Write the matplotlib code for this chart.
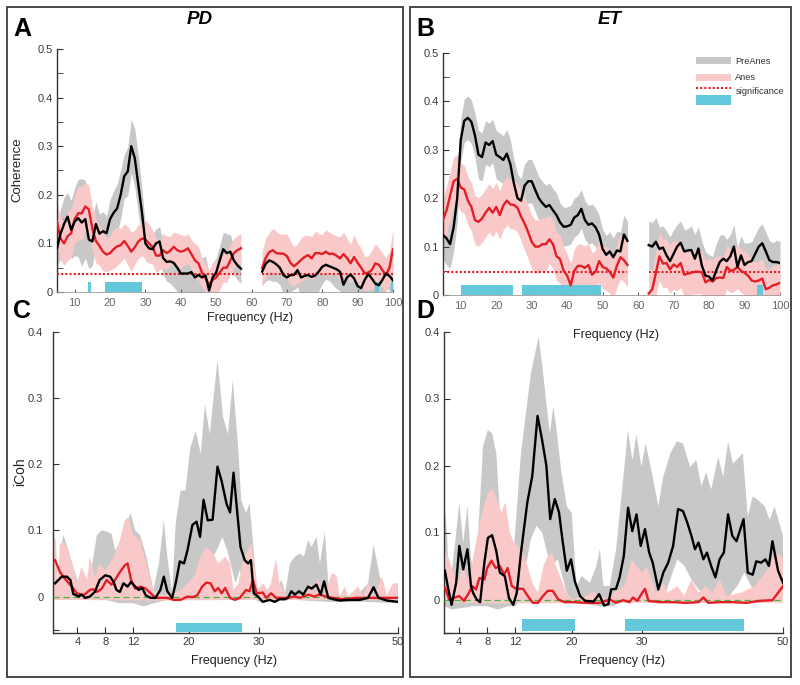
import numpy as np
import matplotlib
matplotlib.use("Agg")
import matplotlib.pyplot as plt
from matplotlib.patches import Rectangle
from matplotlib.lines import Line2D

plt.rcParams['font.family'] = ['Liberation Sans', 'DejaVu Sans']

GREY = '#c8c8c8'
PINK = '#f9c9c9'
RED = '#e41e26'
CYAN = '#62c8da'
GREEN = '#44b844'
DARK = '#333333'

# ---------------- coherence data (top row) ----------------
freq_lo = np.arange(5, 58)    # 5..57 Hz
freq_hi = np.arange(63, 101)  # 63..100 Hz

# PD
pd_pre_lo = np.array([0.09, 0.12, 0.14, 0.155, 0.128, 0.145, 0.152, 0.143, 0.15, 0.108,
                      0.104, 0.14, 0.12, 0.125, 0.121, 0.15, 0.163, 0.172, 0.2, 0.238,
                      0.248, 0.30, 0.275, 0.22, 0.165, 0.1, 0.09, 0.088, 0.1, 0.104,
                      0.07, 0.062, 0.063, 0.06, 0.05, 0.038, 0.038, 0.038, 0.041, 0.03,
                      0.035, 0.03, 0.034, 0.003, 0.03, 0.04, 0.065, 0.088, 0.08, 0.083,
                      0.065, 0.055, 0.048])
pd_pre_hi = np.array([0.042, 0.058, 0.065, 0.062, 0.057, 0.05, 0.035, 0.03, 0.035, 0.035,
                      0.045, 0.03, 0.033, 0.035, 0.031, 0.034, 0.042, 0.052, 0.056, 0.053,
                      0.05, 0.047, 0.042, 0.015, 0.03, 0.036, 0.028, 0.012, 0.008, 0.025,
                      0.037, 0.028, 0.017, 0.014, 0.025, 0.038, 0.033, 0.024])
pd_anes_lo = np.array([0.145, 0.11, 0.1, 0.115, 0.121, 0.15, 0.162, 0.162, 0.176, 0.17,
                       0.13, 0.105, 0.095, 0.083, 0.077, 0.08, 0.088, 0.094, 0.096, 0.105,
                       0.095, 0.083, 0.092, 0.104, 0.11, 0.108, 0.1, 0.093, 0.075, 0.075,
                       0.086, 0.08, 0.085, 0.093, 0.086, 0.083, 0.085, 0.09, 0.078, 0.065,
                       0.059, 0.04, 0.028, 0.015, 0.025, 0.03, 0.04, 0.05, 0.05, 0.065,
                       0.08, 0.086, 0.09])
pd_anes_hi = np.array([0.049, 0.07, 0.082, 0.086, 0.08, 0.079, 0.079, 0.074, 0.06, 0.053,
                       0.059, 0.066, 0.072, 0.076, 0.069, 0.08, 0.08, 0.078, 0.083, 0.078,
                       0.079, 0.075, 0.069, 0.078, 0.07, 0.059, 0.072, 0.06, 0.05, 0.038,
                       0.04, 0.045, 0.059, 0.056, 0.045, 0.035, 0.05, 0.088])
pd_pre_err_lo = np.array([0.04, 0.05, 0.055, 0.05, 0.06, 0.07, 0.08, 0.09, 0.08, 0.06,
                          0.05, 0.045, 0.04, 0.04, 0.035, 0.04, 0.045, 0.05, 0.05, 0.045,
                          0.05, 0.055, 0.06, 0.06, 0.05, 0.035, 0.03, 0.03, 0.03, 0.03,
                          0.035, 0.04, 0.045, 0.05, 0.05, 0.045, 0.04, 0.04, 0.04, 0.04,
                          0.04, 0.04, 0.04, 0.035, 0.03, 0.03, 0.03, 0.035, 0.04, 0.035,
                          0.03, 0.03, 0.03])
pd_pre_err_hi = np.array([0.03, 0.035, 0.04, 0.04, 0.035, 0.035, 0.04, 0.04, 0.035, 0.03,
                          0.035, 0.04, 0.04, 0.035, 0.035, 0.04, 0.04, 0.035, 0.03, 0.03,
                          0.035, 0.04, 0.04, 0.035, 0.035, 0.04, 0.04, 0.035, 0.03, 0.03,
                          0.035, 0.035, 0.04, 0.04, 0.035, 0.03, 0.03, 0.035])
pd_anes_err_lo = np.array([0.04, 0.045, 0.045, 0.05, 0.05, 0.05, 0.055, 0.055, 0.05, 0.05,
                           0.045, 0.045, 0.04, 0.04, 0.035, 0.035, 0.04, 0.04, 0.035, 0.035,
                           0.04, 0.04, 0.035, 0.035, 0.035, 0.04, 0.04, 0.035, 0.035, 0.03,
                           0.035, 0.035, 0.03, 0.03, 0.035, 0.035, 0.03, 0.03, 0.03, 0.035,
                           0.035, 0.03, 0.03, 0.03, 0.035, 0.035, 0.035, 0.03, 0.03, 0.03,
                           0.03, 0.03, 0.03])
pd_anes_err_hi = np.array([0.035, 0.04, 0.04, 0.045, 0.045, 0.04, 0.04, 0.045, 0.045, 0.04,
                           0.04, 0.045, 0.045, 0.04, 0.045, 0.045, 0.04, 0.04, 0.045, 0.045,
                           0.04, 0.04, 0.045, 0.045, 0.04, 0.04, 0.045, 0.04, 0.04, 0.035,
                           0.035, 0.04, 0.04, 0.035, 0.035, 0.035, 0.035, 0.04])
pd_sig = 0.037
pd_bars = [(13.8, 14.7), (18.6, 28.9), (95.0, 96.0), (99.4, 100.0)]

# ET
et_pre_lo = np.array([0.124, 0.117, 0.105, 0.14, 0.2, 0.32, 0.36, 0.366, 0.358, 0.33,
                      0.29, 0.285, 0.315, 0.31, 0.318, 0.29, 0.285, 0.279, 0.292, 0.27,
                      0.23, 0.2, 0.195, 0.226, 0.235, 0.235, 0.217, 0.2, 0.19, 0.182,
                      0.186, 0.175, 0.165, 0.15, 0.141, 0.142, 0.145, 0.16, 0.165, 0.178,
                      0.155, 0.145, 0.148, 0.14, 0.125, 0.095, 0.083, 0.09, 0.078, 0.092,
                      0.09, 0.125, 0.112])
et_pre_hi = np.array([0.103, 0.1, 0.11, 0.095, 0.098, 0.082, 0.07, 0.085, 0.1, 0.108,
                      0.09, 0.092, 0.093, 0.075, 0.096, 0.06, 0.04, 0.038, 0.03, 0.05,
                      0.068, 0.075, 0.07, 0.08, 0.1, 0.058, 0.082, 0.062, 0.068, 0.07,
                      0.085, 0.1, 0.107, 0.09, 0.072, 0.068, 0.068, 0.066])
et_anes_lo = np.array([0.155, 0.175, 0.205, 0.235, 0.24, 0.222, 0.218, 0.195, 0.182, 0.155,
                       0.151, 0.158, 0.17, 0.18, 0.17, 0.182, 0.165, 0.185, 0.195, 0.187,
                       0.186, 0.18, 0.162, 0.148, 0.13, 0.11, 0.1, 0.1, 0.105, 0.105,
                       0.115, 0.105, 0.08, 0.074, 0.05, 0.04, 0.02, 0.05, 0.06, 0.06,
                       0.056, 0.062, 0.042, 0.048, 0.07, 0.058, 0.055, 0.048, 0.036, 0.06,
                       0.078, 0.072, 0.062])
et_anes_hi = np.array([0.003, 0.012, 0.045, 0.08, 0.065, 0.066, 0.053, 0.063, 0.058, 0.066,
                       0.042, 0.044, 0.046, 0.048, 0.048, 0.047, 0.026, 0.031, 0.028, 0.035,
                       0.036, 0.035, 0.058, 0.05, 0.052, 0.058, 0.05, 0.046, 0.04, 0.03,
                       0.028, 0.03, 0.034, 0.012, 0.015, 0.02, 0.022, 0.025])
et_pre_err_lo = np.array([0.05, 0.055, 0.05, 0.05, 0.05, 0.045, 0.045, 0.045, 0.045, 0.045,
                          0.05, 0.05, 0.045, 0.045, 0.045, 0.05, 0.05, 0.05, 0.05, 0.05,
                          0.05, 0.05, 0.045, 0.045, 0.045, 0.045, 0.045, 0.045, 0.045, 0.045,
                          0.045, 0.045, 0.045, 0.04, 0.04, 0.04, 0.04, 0.04, 0.04, 0.04,
                          0.04, 0.04, 0.04, 0.04, 0.04, 0.04, 0.04, 0.04, 0.04, 0.04,
                          0.04, 0.04, 0.04])
et_pre_err_hi = np.array([0.05, 0.05, 0.05, 0.045, 0.045, 0.05, 0.05, 0.05, 0.045, 0.045,
                          0.045, 0.045, 0.05, 0.05, 0.045, 0.05, 0.05, 0.045, 0.05, 0.055,
                          0.055, 0.05, 0.045, 0.045, 0.045, 0.04, 0.04, 0.045, 0.04, 0.04,
                          0.04, 0.04, 0.04, 0.04, 0.04, 0.04, 0.045, 0.045])
et_anes_err_lo = np.array([0.045, 0.05, 0.05, 0.05, 0.05, 0.05, 0.05, 0.05, 0.05, 0.05,
                           0.05, 0.05, 0.05, 0.05, 0.05, 0.05, 0.05, 0.05, 0.05, 0.05,
                           0.05, 0.05, 0.05, 0.055, 0.055, 0.055, 0.055, 0.055, 0.055, 0.055,
                           0.05, 0.05, 0.05, 0.05, 0.05, 0.045, 0.045, 0.045, 0.045, 0.045,
                           0.045, 0.045, 0.045, 0.045, 0.045, 0.045, 0.045, 0.045, 0.045, 0.045,
                           0.045, 0.045, 0.045])
et_anes_err_hi = np.array([0.04, 0.04, 0.045, 0.05, 0.05, 0.05, 0.05, 0.05, 0.05, 0.05,
                           0.045, 0.045, 0.045, 0.045, 0.045, 0.045, 0.045, 0.045, 0.045, 0.045,
                           0.045, 0.045, 0.045, 0.045, 0.045, 0.045, 0.045, 0.045, 0.045, 0.04,
                           0.04, 0.04, 0.04, 0.04, 0.04, 0.04, 0.04, 0.04])
et_sig = 0.0475
et_bars = [(10.1, 24.8), (27.3, 49.4), (93.4, 95.1)]

# ---------------- imaginary coherence data (bottom row), (Hz, value) ----------------
pd_icoh_pre = np.array([
    (0.8, 0.02), (1.75, 0.03), (2.5, 0.03), (3.0, 0.025), (3.4, 0.004), (4.2, 0.0), (4.6, 0.003),
    (5.1, -0.002), (5.8, 0.0), (6.5, 0.007), (7.2, 0.025), (8.0, 0.032), (8.7, 0.03), (9.2, 0.022),
    (9.6, 0.01), (10.1, 0.007), (10.6, 0.02), (11.2, 0.015), (11.7, 0.022), (12.3, 0.015),
    (12.8, 0.01), (13.3, 0.013), (13.8, 0.002), (14.5, -0.002), (15.2, -0.002), (15.9, 0.01),
    (16.4, 0.03), (16.9, 0.008), (17.6, -0.002), (18.1, 0.02), (18.7, 0.053), (19.3, 0.05),
    (19.8, 0.07), (20.5, 0.108), (21.1, 0.113), (21.6, 0.09), (22.1, 0.146), (22.7, 0.115),
    (23.4, 0.116), (24.1, 0.196), (24.7, 0.174), (25.4, 0.14), (25.9, 0.127), (26.4, 0.187),
    (27.0, 0.12), (27.4, 0.075), (28.0, 0.055), (28.5, 0.05), (28.9, 0.055), (29.3, 0.005),
    (29.9, 0.0), (30.6, -0.008), (31.6, -0.005), (32.3, -0.008), (33.0, -0.004), (33.8, -0.004),
    (34.2, -0.002), (34.7, 0.008), (35.2, 0.003), (35.8, 0.008), (36.4, 0.003), (37.1, 0.015),
    (37.6, 0.012), (38.3, 0.018), (38.9, 0.003), (39.4, 0.023), (40.0, -0.002), (40.7, -0.004),
    (41.6, -0.006), (43.1, -0.005), (44.5, -0.005), (45.7, -0.002), (46.5, 0.014), (47.2, -0.002),
    (48.4, -0.006), (50.0, -0.008)])
pd_icoh_anes = np.array([
    (0.8, 0.055), (1.5, 0.037), (2.2, 0.027), (3.2, 0.015), (3.9, 0.005), (4.9, 0.002), (5.8, 0.01),
    (6.3, 0.011), (6.8, 0.007), (7.5, 0.012), (8.2, 0.025), (8.9, 0.018), (9.4, 0.025), (10.1, 0.037),
    (10.8, 0.047), (11.2, 0.05), (11.7, 0.025), (12.3, 0.012), (13.0, 0.015), (13.8, 0.012),
    (14.5, 0.005), (15.2, -0.002), (16.9, -0.002), (17.8, -0.005), (18.8, -0.005), (19.8, 0.0),
    (20.5, -0.001), (21.2, 0.002), (21.9, 0.015), (22.5, 0.021), (23.1, 0.02), (23.7, 0.008),
    (24.2, 0.013), (24.7, 0.005), (25.2, 0.013), (25.9, -0.002), (26.6, -0.005), (27.3, -0.002),
    (28.2, 0.01), (28.7, 0.008), (29.2, 0.025), (29.7, 0.005), (30.6, 0.006), (31.1, -0.002),
    (31.8, 0.005), (32.5, -0.002), (34.0, -0.002), (35.2, 0.0), (35.9, -0.002), (37.1, 0.003),
    (38.0, 0.0), (38.7, 0.003), (39.7, 0.0), (40.7, -0.002), (42.1, -0.004), (44.0, -0.002),
    (46.5, -0.002), (48.4, -0.002), (50.0, -0.002)])
pd_icoh_pre_up = np.array([
    (0.6, 0.04), (1.2, 0.02), (1.6, 0.07), (2.0, 0.093), (2.7, 0.07), (3.4, 0.045), (4.2, 0.018),
    (4.6, 0.04), (5.4, 0.018), (6.0, 0.04), (6.8, 0.093), (7.5, 0.1), (8.2, 0.098), (8.9, 0.095),
    (9.4, 0.07), (10.1, 0.08), (10.8, 0.093), (11.6, 0.127), (12.3, 0.1), (13.0, 0.093),
    (13.9, 0.06), (14.9, 0.01), (15.7, 0.05), (16.4, 0.115), (16.9, 0.06), (17.6, 0.005),
    (18.1, 0.11), (18.8, 0.16), (19.5, 0.16), (20.2, 0.225), (21.0, 0.25), (21.7, 0.215),
    (22.3, 0.29), (23.0, 0.245), (24.1, 0.357), (24.9, 0.271), (25.6, 0.245), (26.3, 0.327),
    (27.1, 0.22), (27.5, 0.146), (28.2, 0.126), (28.7, 0.141), (29.2, 0.081), (29.7, 0.02),
    (30.4, 0.0), (31.6, 0.0), (32.5, 0.01), (33.3, 0.025), (33.8, 0.005), (34.5, 0.05),
    (35.2, 0.06), (35.9, 0.065), (36.5, 0.06), (37.1, 0.085), (37.6, 0.075), (38.3, 0.09),
    (38.8, 0.05), (39.5, 0.098), (40.0, 0.02), (40.7, 0.002), (41.6, 0.0), (44.0, 0.0),
    (45.7, 0.02), (46.5, 0.078), (47.4, 0.03), (48.4, 0.0), (50.0, 0.0)])
pd_icoh_pre_low = np.array([
    (0.6, -0.005), (5.0, -0.005), (8.0, -0.005), (10.0, -0.01), (12.0, -0.01), (13.5, -0.015),
    (15.0, -0.01), (17.0, -0.005), (18.5, 0.0), (20.0, 0.02), (21.5, 0.04), (23.0, 0.05),
    (24.0, 0.07), (24.8, 0.09), (25.5, 0.07), (26.2, 0.04), (26.7, 0.02), (27.3, 0.04),
    (28.0, 0.02), (29.0, 0.0), (30.0, -0.008), (35.0, -0.005), (40.0, -0.008), (45.0, -0.008),
    (50.0, -0.01)])
pd_icoh_anes_up = np.array([
    (0.5, 0.095), (0.9, 0.085), (1.2, 0.02), (1.5, 0.08), (2.2, 0.082), (3.2, 0.052), (3.9, 0.02),
    (4.6, 0.045), (5.4, 0.025), (5.8, 0.06), (6.5, 0.03), (7.2, 0.05), (8.0, 0.04), (8.7, 0.05),
    (9.4, 0.065), (10.1, 0.085), (10.8, 0.115), (11.3, 0.12), (12.0, 0.093), (13.0, 0.085),
    (13.9, 0.05), (14.9, 0.01), (15.9, 0.002), (17.8, 0.005), (18.8, 0.01), (19.8, 0.02),
    (20.8, 0.03), (21.6, 0.06), (22.5, 0.075), (23.5, 0.065), (24.2, 0.05), (25.2, 0.06),
    (25.9, 0.05), (26.4, 0.01), (27.1, 0.02), (27.6, 0.05), (28.2, 0.065), (29.0, 0.08),
    (29.5, 0.04), (29.9, 0.01), (30.6, 0.02), (31.3, 0.01), (31.8, 0.02), (32.5, 0.058),
    (33.0, 0.02), (34.0, 0.0), (35.9, 0.0), (37.3, 0.02), (38.0, 0.005), (38.5, 0.03),
    (39.2, 0.0), (40.0, 0.02), (40.5, 0.035), (41.2, 0.032), (41.6, 0.0), (42.4, 0.015),
    (42.8, 0.0), (44.3, 0.015), (45.0, 0.0), (45.7, 0.022), (46.5, 0.0), (47.7, 0.03),
    (48.4, 0.002), (49.3, 0.02), (50.0, 0.02)])
pd_icoh_anes_low = np.array([(0.5, -0.005), (15.0, -0.006), (30.0, -0.005), (50.0, -0.005)])
pd_icoh_bars = [(18.2, 27.6)]

et_icoh_pre = np.array([
    (2.0, 0.043), (2.4, 0.02), (2.95, -0.008), (3.6, 0.025), (4.05, 0.08), (4.6, 0.045),
    (5.2, 0.075), (5.7, 0.02), (6.0, 0.01), (6.5, 0.0), (7.0, -0.004), (7.6, 0.055), (8.1, 0.092),
    (8.7, 0.096), (9.3, 0.072), (9.8, 0.04), (10.5, 0.035), (11.1, 0.002), (11.7, -0.008),
    (12.2, 0.01), (12.8, 0.07), (13.7, 0.145), (14.4, 0.184), (15.15, 0.274), (15.8, 0.238),
    (16.4, 0.2), (16.95, 0.12), (17.6, 0.15), (18.2, 0.13), (18.7, 0.088), (19.3, 0.043),
    (19.9, 0.06), (20.45, 0.027), (21.2, 0.005), (21.9, -0.002), (23.1, -0.003), (23.9, 0.008),
    (24.6, -0.009), (25.2, -0.007), (25.6, 0.015), (26.3, 0.016), (26.8, 0.033), (27.4, 0.065),
    (28.0, 0.137), (28.6, 0.102), (29.2, 0.127), (29.8, 0.08), (30.4, 0.105), (31.0, 0.07),
    (31.5, 0.055), (32.3, 0.015), (33.0, 0.04), (33.7, 0.055), (34.4, 0.08), (35.1, 0.135),
    (35.8, 0.132), (36.4, 0.115), (37.0, 0.095), (37.5, 0.075), (38.0, 0.085), (38.7, 0.06),
    (39.2, 0.07), (39.8, 0.05), (40.4, 0.033), (41.0, 0.06), (41.6, 0.07), (42.2, 0.127),
    (42.8, 0.095), (43.4, 0.087), (44.4, 0.12), (45.0, 0.04), (45.7, 0.037), (46.2, 0.057),
    (46.9, 0.055), (47.5, 0.06), (48.0, 0.05), (48.5, 0.087), (49.3, 0.043), (50.0, 0.025)])
et_icoh_anes = np.array([
    (2.0, 0.018), (2.6, 0.0), (3.4, 0.003), (4.05, 0.005), (4.7, -0.002), (5.3, 0.008), (5.9, 0.02),
    (6.4, 0.015), (6.9, 0.032), (7.6, 0.03), (8.0, 0.047), (8.6, 0.058), (9.2, 0.047), (9.8, 0.05),
    (10.4, 0.037), (10.9, 0.047), (11.5, 0.02), (12.1, 0.016), (13.1, 0.016), (13.9, 0.003),
    (14.5, -0.005), (15.2, -0.005), (15.9, 0.005), (16.6, 0.013), (17.3, 0.013), (18.1, 0.0),
    (19.0, -0.004), (20.4, -0.004), (22.1, -0.005), (24.0, -0.005), (25.4, 0.0), (26.3, -0.005),
    (27.3, -0.001), (28.2, -0.004), (28.7, 0.003), (29.3, -0.002), (29.9, 0.008), (30.4, 0.016),
    (30.9, -0.002), (32.5, -0.004), (34.4, -0.004), (36.3, -0.005), (38.0, -0.004), (38.7, 0.003),
    (39.4, -0.005), (41.0, -0.004), (42.9, -0.004), (44.8, -0.005), (46.7, -0.002), (48.5, -0.001),
    (49.3, 0.01), (50.0, 0.02)])
et_icoh_pre_up = np.array([
    (1.9, 0.145), (2.3, 0.1), (2.6, 0.008), (3.4, 0.08), (4.05, 0.145), (4.6, 0.085), (5.2, 0.14),
    (5.7, 0.06), (6.4, 0.04), (7.0, 0.15), (7.4, 0.228), (8.1, 0.253), (8.7, 0.248), (9.3, 0.218),
    (9.8, 0.13), (10.8, 0.095), (11.7, 0.06), (12.1, 0.12), (12.8, 0.218), (13.5, 0.278),
    (14.2, 0.337), (15.0, 0.377), (15.3, 0.392), (15.9, 0.342), (16.4, 0.293), (16.9, 0.248),
    (17.4, 0.288), (17.8, 0.258), (18.5, 0.193), (19.3, 0.139), (20.0, 0.129), (20.7, 0.02),
    (21.4, 0.035), (22.6, 0.025), (23.5, 0.05), (24.0, 0.075), (24.5, 0.02), (25.4, 0.02),
    (26.3, 0.075), (27.2, 0.169), (28.0, 0.253), (28.6, 0.208), (29.2, 0.246), (29.9, 0.198),
    (30.5, 0.233), (31.5, 0.183), (32.3, 0.139), (33.0, 0.183), (34.0, 0.218), (34.9, 0.236),
    (35.8, 0.233), (36.8, 0.198), (37.7, 0.208), (38.4, 0.169), (39.1, 0.19), (39.8, 0.164),
    (40.8, 0.213), (41.5, 0.183), (42.2, 0.236), (42.9, 0.203), (44.3, 0.218), (45.0, 0.124),
    (45.7, 0.154), (46.4, 0.149), (47.4, 0.139), (48.1, 0.119), (48.8, 0.139), (50.0, 0.095)])
et_icoh_pre_low = np.array([
    (1.9, -0.01), (3.0, -0.015), (6.0, -0.01), (8.0, -0.01), (9.5, -0.015), (11.0, -0.01),
    (12.0, -0.01), (12.8, 0.0), (13.5, 0.05), (14.2, 0.09), (15.0, 0.11), (15.8, 0.1),
    (16.5, 0.07), (17.2, 0.05), (18.0, 0.06), (18.8, 0.03), (19.5, 0.0), (20.5, -0.005),
    (24.0, -0.01), (26.0, -0.01), (27.0, 0.0), (28.0, 0.03), (29.0, 0.02), (30.0, 0.02),
    (31.0, 0.01), (32.0, 0.0), (33.0, 0.0), (34.0, 0.03), (35.0, 0.06), (36.0, 0.05),
    (37.0, 0.03), (38.0, 0.015), (40.0, 0.0), (42.0, 0.0), (43.5, 0.02), (44.5, 0.04),
    (45.5, 0.02), (46.5, 0.0), (50.0, 0.0)])
et_icoh_anes_up = np.array([
    (1.9, 0.075), (2.6, 0.06), (3.2, 0.04), (4.0, 0.03), (4.6, 0.05), (5.2, 0.03), (5.8, 0.05),
    (6.5, 0.09), (7.0, 0.115), (7.5, 0.14), (8.2, 0.16), (8.8, 0.165), (9.4, 0.15), (10.0, 0.13),
    (10.6, 0.145), (11.2, 0.1), (11.8, 0.085), (12.3, 0.08), (13.0, 0.07), (13.6, 0.055),
    (14.4, 0.025), (15.2, 0.01), (16.0, 0.05), (16.6, 0.065), (17.2, 0.07), (17.8, 0.05),
    (18.5, 0.03), (19.3, 0.01), (20.0, 0.0), (22.0, 0.005), (23.0, 0.012), (24.0, 0.005),
    (25.0, 0.0), (26.0, 0.01), (27.5, 0.02), (28.5, 0.06), (29.2, 0.05), (30.0, 0.04),
    (30.6, 0.05), (31.3, 0.03), (32.0, 0.01), (33.0, 0.025), (33.6, 0.01), (35.0, 0.02),
    (36.0, 0.005), (37.0, 0.03), (38.0, 0.01), (39.0, 0.02), (40.0, 0.01), (41.0, 0.03),
    (42.0, 0.005), (44.0, 0.01), (46.0, 0.02), (47.5, 0.04), (48.5, 0.06), (49.3, 0.07),
    (50.0, 0.06)])
et_icoh_anes_low = np.array([(1.9, -0.004), (10.0, -0.006), (25.0, -0.005), (50.0, -0.005)])
et_icoh_bars = [(12.9, 20.4), (27.5, 44.4)]

icoh_ticks = [4, 8, 12, 20, 30, 50]


def px_box(x0, y0, x1, y1):
    # pixel box (top-left origin) -> figure fraction rect
    return [x0 / 800, 1 - y1 / 685, (x1 - x0) / 800, (y1 - y0) / 685]


def style_axis(ax):
    for s in ('top', 'right'):
        ax.spines[s].set_visible(False)
    ax.spines['left'].set_color(DARK)
    ax.spines['left'].set_linewidth(1.0)
    ax.tick_params(axis='both', which='both', direction='in', colors=DARK,
                   labelsize=8, labelcolor='#3a3a3a')


def draw_coh(ax, pre, anes, pre_err, anes_err, sig, bars):
    for f, m, e in ((freq_lo, pre[0], pre_err[0]), (freq_hi, pre[1], pre_err[1])):
        ax.fill_between(f, m - e, m + e, color=GREY, lw=0, zorder=1)
    for f, m, e in ((freq_lo, anes[0], anes_err[0]), (freq_hi, anes[1], anes_err[1])):
        ax.fill_between(f, m - e, m + e, color=PINK, lw=0, zorder=2)
    for a, b in bars:
        ax.bar(a, 0.021, width=b - a, align='edge', color=CYAN, lw=0, zorder=3)
    for f in (freq_lo, freq_hi):
        ax.plot([f[0], f[-1]], [sig, sig], color=RED, lw=1.5, ls=(0, (1, 1)), zorder=4)
    ax.plot(freq_lo, anes[0], color=RED, lw=1.7, zorder=5)
    ax.plot(freq_hi, anes[1], color=RED, lw=1.7, zorder=5)
    ax.plot(freq_lo, pre[0], color='black', lw=1.7, zorder=6)
    ax.plot(freq_hi, pre[1], color='black', lw=1.7, zorder=6)
    ax.set_xlim(5, 100)
    ax.set_ylim(0, 0.5)
    style_axis(ax)
    ax.spines['bottom'].set_color('#9a9a9a')
    ax.spines['bottom'].set_linewidth(0.6)
    ax.set_xticks(np.arange(10, 101, 10))
    ax.set_yticks([0, 0.1, 0.2, 0.3, 0.4, 0.5])
    ax.set_yticklabels(['0', '0.1', '0.2', '0.3', '0.4', '0.5'])
    ax.set_yticks(np.arange(0.05, 0.5, 0.1), minor=True)
    ax.tick_params(axis='y', which='major', length=4, pad=3)
    ax.tick_params(axis='y', which='minor', length=4)
    ax.tick_params(axis='x', length=2.5, pad=4, colors='#666666')


def polygon(up, low):
    xs = np.concatenate([up[:, 0], low[::-1, 0]])
    ys = np.concatenate([up[:, 1], low[::-1, 1]])
    return xs, ys


def draw_icoh(ax, pre, anes, pre_up, pre_low, anes_up, anes_low, bars, bar_y, xmin, ymin, ypad):
    xs, ys = polygon(pre_up, pre_low)
    ax.fill(xs, ys, color=GREY, lw=0, zorder=1)
    xs, ys = polygon(anes_up, anes_low)
    ax.fill(xs, ys, color=PINK, lw=0, zorder=2)
    ax.plot([xmin, 50], [0, 0], color=GREEN, lw=0.9, ls=(0, (5, 3)), zorder=3)
    for a, b in bars:
        ax.bar(a, bar_y[1] - bar_y[0], width=b - a, bottom=bar_y[0], align='edge',
               color=CYAN, lw=0, zorder=3)
    ax.plot(anes[:, 0], anes[:, 1], color=RED, lw=1.7, zorder=5)
    ax.plot(pre[:, 0], pre[:, 1], color='black', lw=1.7, zorder=6)
    ax.set_xlim(xmin, 50)
    ax.set_ylim(ymin, 0.4)
    style_axis(ax)
    ax.spines['bottom'].set_color(DARK)
    ax.spines['bottom'].set_linewidth(1.0)
    ax.set_xticks(icoh_ticks)
    ax.set_yticks([-0.05, 0, 0.1, 0.2, 0.3, 0.4])
    ax.set_yticklabels(['', '0', '0.1', '0.2', '0.3', '0.4'])
    ax.tick_params(axis='y', length=4, pad=ypad)
    ax.tick_params(axis='x', length=4, pad=3)


fig = plt.figure(figsize=(8, 6.85), dpi=100)

axA = fig.add_axes(px_box(57, 49, 393, 292))
draw_coh(axA, (pd_pre_lo, pd_pre_hi), (pd_anes_lo, pd_anes_hi),
         (pd_pre_err_lo, pd_pre_err_hi), (pd_anes_err_lo, pd_anes_err_hi), pd_sig, pd_bars)

axB = fig.add_axes(px_box(443, 53, 780, 295))
draw_coh(axB, (et_pre_lo, et_pre_hi), (et_anes_lo, et_anes_hi),
         (et_pre_err_lo, et_pre_err_hi), (et_anes_err_lo, et_anes_err_hi), et_sig, et_bars)

axC = fig.add_axes(px_box(53, 331.5, 398, 633))
draw_icoh(axC, pd_icoh_pre, pd_icoh_anes, pd_icoh_pre_up, pd_icoh_pre_low,
          pd_icoh_anes_up, pd_icoh_anes_low, pd_icoh_bars, (-0.053, -0.0395), 0.5, -0.055, 7)

axD = fig.add_axes(px_box(444, 331.5, 783, 633))
draw_icoh(axD, et_icoh_pre, et_icoh_anes, et_icoh_pre_up, et_icoh_pre_low,
          et_icoh_anes_up, et_icoh_anes_low, et_icoh_bars, (-0.047, -0.029), 1.87, -0.049, 3)

# panel frames
for x0, x1 in ((7, 403), (410, 791)):
    fig.add_artist(Rectangle((x0 / 800, 1 - 677 / 685), (x1 - x0) / 800, 670 / 685,
                             transform=fig.transFigure, fill=False, ec='#3a3a3a', lw=1.3))

# labels
def ftext(x, y, s, **kw):
    fig.text(x / 800, 1 - y / 685, s, ha='center', va='center', **kw)

ftext(22.5, 29, 'A', fontsize=18, fontweight='bold')
ftext(425, 29, 'B', fontsize=18, fontweight='bold')
ftext(22.5, 311, 'C', fontsize=18, fontweight='bold')
ftext(425, 311, 'D', fontsize=18, fontweight='bold')
ftext(200, 20, 'PD', fontsize=13.5, fontweight='bold', fontstyle='italic')
ftext(610, 20, 'ET', fontsize=13.5, fontweight='bold', fontstyle='italic')
ftext(250, 318, 'Frequency (Hz)', fontsize=9, color='#222222')
ftext(616, 335, 'Frequency (Hz)', fontsize=9, color='#222222')
ftext(234, 661, 'Frequency (Hz)', fontsize=9, color='#222222')
ftext(622, 661, 'Frequency (Hz)', fontsize=9, color='#222222')
ftext(17, 170, 'Coherence', fontsize=9.5, rotation=90, color='#222222')
ftext(20, 472, 'iCoh', fontsize=10, rotation=90, color='#222222')

# legend for panel B
def frect(x0, y0, x1, y1, color):
    fig.add_artist(Rectangle((x0 / 800, 1 - y1 / 685), (x1 - x0) / 800, (y1 - y0) / 685,
                             transform=fig.transFigure, color=color, lw=0))

frect(696, 57, 731, 64, GREY)
frect(696, 74, 731, 81, PINK)
fig.add_artist(Line2D([696 / 800, 731 / 800], [1 - 88 / 685, 1 - 88 / 685],
                      transform=fig.transFigure, color=RED, lw=1.5, ls=(0, (1, 1))))
frect(696, 95, 731, 105, CYAN)
for y, s, x in ((61, 'PreAnes', 735), (77, 'Anes', 735), (92, 'significance', 736)):
    fig.text(x / 800, 1 - y / 685, s, ha='left', va='center', fontsize=6.7, color='#333333')

fig.savefig('out.png', dpi=100)
